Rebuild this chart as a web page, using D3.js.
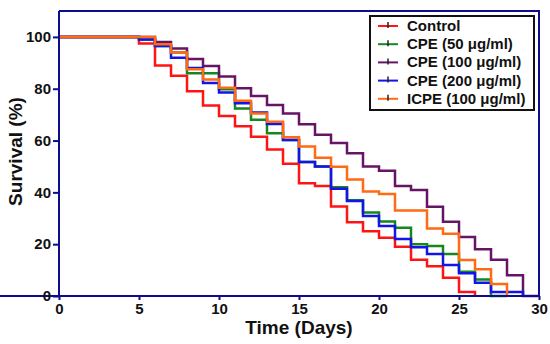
<!DOCTYPE html>
<html>
<head>
<meta charset="utf-8">
<script src="https://cdn.jsdelivr.net/npm/d3@7"></script>
<style>
  body { margin: 0; background: #fff; }
  text { font-family: "Liberation Sans", Arial, sans-serif; font-weight: bold; }
</style>
</head>
<body>
<div id="chart"></div>
<script>
// days (x) and survival % for each group
const days = [0, 1, 2, 3, 4, 5, 6, 7, 8, 9, 10, 11, 12, 13, 14, 15, 16, 17, 18, 19, 20, 21, 22, 23, 24, 25, 26, 27, 28, 29, 30];

const control = [100, 100, 100, 100, 100, 97.5, 89, 85, 79, 73.5, 69.5, 65.5, 61.5, 56.5, 51, 43.5, 42.5, 34.5, 28.5, 25, 22.5, 19, 14, 11.5, 7, 1.5, 0, null, null, null, null];
const cpe50 = [100, 100, 100, 100, 100, 99, 96.5, 94, 86, 86, 79.8, 72.4, 68, 62.8, 60.2, 51.7, 50, 42, 37, 32.2, 28.8, 26.3, 20, 19.3, 16.2, 9.4, 6.4, 0, 0, null, null];
const cpe100 = [100, 100, 100, 100, 100, 100, 98, 95.5, 91.5, 88.8, 84.7, 80.2, 77.2, 73.7, 70.4, 66.3, 62.2, 59.1, 55.1, 50, 48.3, 42.5, 40.9, 34.4, 28.7, 22.8, 18, 14, 8, 0, 0];
const cpe200 = [100, 100, 100, 100, 100, 99, 96.5, 92, 88, 82.2, 78.5, 74.4, 70.8, 66.4, 60.2, 51.7, 50, 41.4, 36.7, 30.9, 27, 22, 18.8, 16.2, 12, 8.8, 5.1, 1.5, 1.5, 0, null];
const icpe100 = [100, 100, 100, 100, 100, 100, 97.2, 94, 87.5, 83.6, 80.4, 75.4, 70.4, 67.3, 61.3, 57.7, 53.4, 49.9, 45, 40.3, 39.4, 33, 33, 26.1, 24, 13.9, 10.3, 4.6, 0, null, null];

const seriesNames = ["Control", "CPE (50 μg/ml)", "CPE (100 μg/ml)", "CPE (200 μg/ml)", "ICPE (100 μg/ml)"];
const seriesValues = [control, cpe50, cpe100, cpe200, icpe100];
const seriesColors = ["#ff1414", "#14871e", "#661466", "#1414e6", "#ff6a14"];

const xTicks = [0, 5, 10, 15, 20, 25, 30];
const yTicks = [0, 20, 40, 60, 80, 100];

const width = 550;
const height = 344;
const axisColor = "#0c0c8c";

const svg = d3.select("#chart")
    .append("svg")
    .attr("width", width)
    .attr("height", height);

const x = d3.scaleLinear().domain([0, 30]).range([59, 539]);
const y = d3.scaleLinear().domain([0, 110]).range([296, 11]);

// frame: top and right border
svg.append("path")
    .attr("d", `M${x(0)},${y(110)}H${x(30)}V${y(0)}`)
    .attr("fill", "none")
    .attr("stroke", axisColor)
    .attr("stroke-width", 2);

// survival curves
const line = d3.line()
    .defined(d => d[1] !== null)
    .x(d => x(d[0]))
    .y(d => y(d[1]))
    .curve(d3.curveStepAfter);

seriesValues.forEach((vals, i) => {
    const pts = days.map((d, j) => [d, vals[j]]);
    svg.append("path")
        .datum(pts)
        .attr("fill", "none")
        .attr("stroke", seriesColors[i])
        .attr("stroke-width", 2.5)
        .attr("d", line);
});

// axes
const xAxis = svg.append("g")
    .attr("transform", `translate(0,${y(0)})`)
    .call(d3.axisBottom(x).tickValues(xTicks).tickSize(4).tickPadding(3).tickSizeOuter(0));
const yAxis = svg.append("g")
    .attr("transform", `translate(${x(0)},0)`)
    .call(d3.axisLeft(y).tickValues(yTicks).tickSize(6).tickPadding(2).tickSizeOuter(0));

[xAxis, yAxis].forEach(g => {
    g.select(".domain").attr("stroke", axisColor).attr("stroke-width", 2);
    g.selectAll(".tick line").attr("stroke", axisColor).attr("stroke-width", 2);
    g.selectAll(".tick text")
        .attr("fill", "#111")
        .style("font-size", "15px")
        .style("font-weight", "bold")
        .style("font-family", "'Liberation Sans', Arial, sans-serif");
});
// y domain should stretch to the top frame
yAxis.select(".domain").attr("d", `M0,${y(0)}V${y(110)}`);
xAxis.select(".domain").attr("d", `M0,0H${x(30)}`);

// axis titles
svg.append("text")
    .attr("x", (x(0) + x(30)) / 2)
    .attr("y", 334)
    .attr("text-anchor", "middle")
    .style("font-size", "19px")
    .attr("fill", "#111")
    .text("Time (Days)");

svg.append("text")
    .attr("transform", `translate(22,${(y(0) + y(110)) / 2 - 2}) rotate(-90)`)
    .attr("text-anchor", "middle")
    .style("font-size", "19px")
    .attr("fill", "#111")
    .text("Survival (%)");

// legend
const legend = svg.append("g");
legend.append("rect")
    .attr("x", 370)
    .attr("y", 16)
    .attr("width", 164)
    .attr("height", 94)
    .attr("fill", "#fff")
    .attr("stroke", "#111")
    .attr("stroke-width", 2);

seriesNames.forEach((name, i) => {
    const cy = 26 + i * 18.2;
    legend.append("line")
        .attr("x1", 378).attr("x2", 398)
        .attr("y1", cy).attr("y2", cy)
        .attr("stroke", seriesColors[i])
        .attr("stroke-width", 2);
    legend.append("line")
        .attr("x1", 388).attr("x2", 388)
        .attr("y1", cy - 4).attr("y2", cy + 2)
        .attr("stroke", "#222")
        .attr("stroke-width", 1.5);
    legend.append("text")
        .attr("x", 407)
        .attr("y", cy + 5)
        .style("font-size", "15px")
        .attr("fill", "#111")
        .text(name);
});
</script>
</body>
</html>
